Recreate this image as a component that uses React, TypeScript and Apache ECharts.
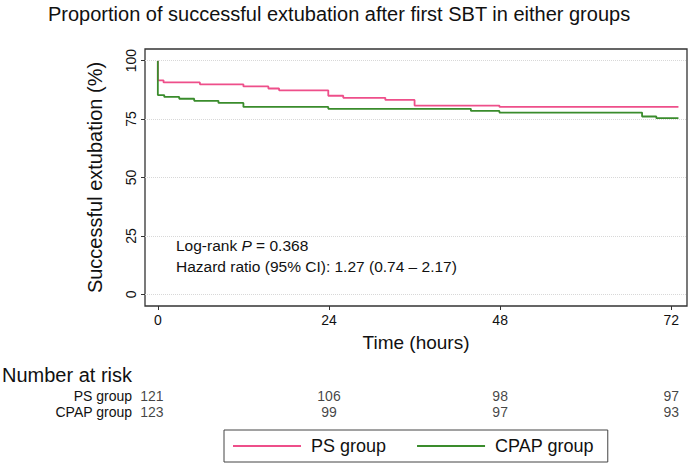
import React, { useEffect, useRef } from "react";
import * as echarts from "echarts";

const TITLE = "Proportion of successful extubation after first SBT in either groups";
const X_TICKS = [0, 24, 48, 72];
const Y_TICKS = [0, 25, 50, 75, 100];

// Kaplan-Meier steps: [time (h), proportion (%)]
const PS_TIMES = [0, 0, 0.8, 5.9, 12.0, 15.5, 17.0, 23.9, 26.0, 31.9, 36.0, 47.9, 73.0];
const PS_VALUES = [100, 91.6, 90.7, 89.9, 89.0, 88.1, 87.3, 85.0, 84.1, 83.2, 80.8, 80.2, 80.2];
const CPAP_TIMES = [0, 0, 0.9, 3.0, 5.1, 8.5, 12.0, 23.9, 43.9, 47.9, 67.9, 69.9, 73.0];
const CPAP_VALUES = [100, 85.3, 84.5, 83.7, 82.8, 81.9, 80.2, 79.4, 78.5, 77.8, 76.1, 75.4, 75.4];

const GROUPS = ["PS group", "CPAP group"];
const RISK_TIMES = [0, 24, 48, 72];
const PS_RISK = [121, 106, 98, 97];
const CPAP_RISK = [123, 99, 97, 93];

const PS_COLOR = "#EE4F8A";
const CPAP_COLOR = "#3A8C2C";
const FONT = "Liberation Sans, Arial, Helvetica, sans-serif";

export default function App() {
  const ref = useRef<HTMLDivElement>(null);
  useEffect(() => {
    if (!ref.current) return;
    const chart = echarts.init(ref.current, undefined, { renderer: "svg" });
    const xMin = -1.8;
    const xMax = 74.2;
    const riskData: any[] = [];
    RISK_TIMES.forEach((t, i) => {
      const lab = i === 0 ? { offset: [-6, 0] } : undefined;
      riskData.push({ value: [t, GROUPS[0], PS_RISK[i]], label: lab });
      riskData.push({ value: [t, GROUPS[1], CPAP_RISK[i]], label: lab });
    });
    chart.setOption({
      animation: false,
      textStyle: { fontFamily: FONT },
      grid: [
        { left: 145, right: 4, top: 49, bottom: 162, show: true, borderColor: "#333", borderWidth: 1.3, backgroundColor: "#fff" },
        { left: 145, right: 4, top: 388, height: 31.4 },
      ],
      xAxis: [
        {
          gridIndex: 0,
          type: "value",
          min: xMin,
          max: xMax,
          name: "Time (hours)",
          nameLocation: "middle",
          nameGap: 27,
          nameTextStyle: { fontSize: 19, color: "#111", fontFamily: FONT },
          axisLine: { show: false, onZero: false },
          axisTick: { show: true, length: 4, customValues: X_TICKS, lineStyle: { color: "#333" } },
          axisLabel: { customValues: X_TICKS, fontSize: 14, color: "#111", margin: 7, fontFamily: FONT },
          splitLine: { show: false },
          minorSplitLine: { show: false },
        },
        {
          gridIndex: 1,
          type: "value",
          min: xMin,
          max: xMax,
          show: false,
          splitLine: { show: false },
          axisLine: { show: false, onZero: false },
        },
      ],
      yAxis: [
        {
          gridIndex: 0,
          type: "value",
          min: -5,
          max: 105,
          name: "Successful extubation (%)",
          nameLocation: "middle",
          nameGap: 40,
          nameTextStyle: { fontSize: 20, color: "#111", fontFamily: FONT },
          axisLine: { show: false, onZero: false },
          axisTick: { show: true, length: 4, customValues: Y_TICKS, lineStyle: { color: "#333" } },
          axisLabel: { customValues: Y_TICKS, rotate: 90, fontSize: 14, color: "#111", margin: 7, fontFamily: FONT },
          splitLine: { show: false },
          minorSplitLine: { show: false },
        },
        {
          gridIndex: 1,
          type: "category",
          data: GROUPS,
          inverse: true,
          axisLine: { show: false, onZero: false },
          axisTick: { show: false },
          axisLabel: { interval: 0, fontSize: 14, color: "#111", margin: 13, fontFamily: FONT },
          splitLine: { show: false },
        },
      ],
      legend: {
        data: GROUPS,
        left: 224,
        top: 430,
        orient: "horizontal",
        icon: "rect",
        itemWidth: 68,
        itemHeight: 1.8,
        itemGap: 31,
        borderColor: "#444",
        borderWidth: 1,
        padding: [7, 14, 7, 9],
        textStyle: { fontSize: 18, color: "#111", fontFamily: FONT, padding: [0, 0, 0, 5] },
      },
      graphic: [
        {
          type: "text",
          left: 48,
          top: 4,
          style: { text: TITLE, fontSize: 20, fill: "#111", fontFamily: FONT },
        },
        {
          type: "text",
          left: 2,
          top: 365,
          style: { text: "Number at risk", fontSize: 20, fill: "#111", fontFamily: FONT },
        },
        {
          type: "text",
          left: 176,
          top: 237,
          style: {
            text: "{a|Log-rank }{i|P}{a| = 0.368}",
            rich: {
              a: { fontSize: 15.5, fill: "#111", fontFamily: FONT },
              i: { fontSize: 15.5, fill: "#111", fontFamily: FONT, fontStyle: "italic" },
            },
          },
        },
        {
          type: "text",
          left: 176,
          top: 258,
          style: { text: "Hazard ratio (95% CI): 1.27 (0.74 \u2013 2.17)", fontSize: 15.5, fill: "#111", fontFamily: FONT },
        },
      ],
      series: [
        {
          type: "line",
          xAxisIndex: 0,
          yAxisIndex: 0,
          data: [],
          silent: true,
          z: 1,
          markLine: {
            silent: true,
            symbol: "none",
            label: { show: false },
            lineStyle: { type: "dotted", color: "#d8d8d8", width: 1 },
            data: Y_TICKS.map((v) => [{ coord: [xMin, v] }, { coord: [xMax, v] }]),
          },
        },
        {
          name: GROUPS[0],
          type: "line",
          xAxisIndex: 0,
          yAxisIndex: 0,
          step: "end",
          symbol: "none",
          data: PS_TIMES.map((t, i) => [t, PS_VALUES[i]]),
          lineStyle: { color: PS_COLOR, width: 1.8 },
          itemStyle: { color: PS_COLOR },
          z: 2,
        },
        {
          name: GROUPS[1],
          type: "line",
          xAxisIndex: 0,
          yAxisIndex: 0,
          step: "end",
          symbol: "none",
          data: CPAP_TIMES.map((t, i) => [t, CPAP_VALUES[i]]),
          lineStyle: { color: CPAP_COLOR, width: 1.8 },
          itemStyle: { color: CPAP_COLOR },
          z: 3,
        },
        {
          type: "scatter",
          xAxisIndex: 1,
          yAxisIndex: 1,
          symbolSize: 1,
          itemStyle: { color: "rgba(0,0,0,0)" },
          data: riskData,
          label: {
            show: true,
            position: "inside",
            formatter: (p: any) => String(p.value[2]),
            fontSize: 14,
            color: "#111",
            fontFamily: FONT,
          },
          silent: true,
        },
      ],
    });
    return () => chart.dispose();
  }, []);
  return <div ref={ref} style={{ width: 691, height: 468, position: "absolute", left: 0, top: 0 }} />;
}
